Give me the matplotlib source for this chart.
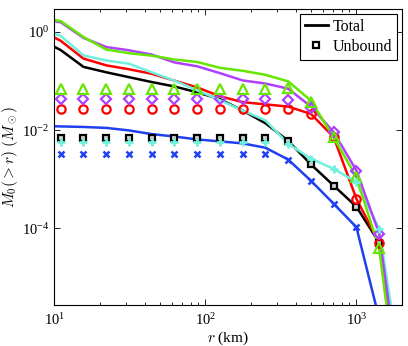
import matplotlib
matplotlib.use('Agg')
import matplotlib.pyplot as plt
import numpy as np

plt.rcParams.update({
    'font.family': 'serif',
    'font.serif': ['Liberation Serif', 'DejaVu Serif'],
    'mathtext.fontset': 'cm',
    'font.size': 11,
})

# radius grid (km); markers use r[1:16]
r = [7.81, 11.05, 15.6, 22.1, 31.25, 44.2, 62.5, 88.4, 125, 176.8, 250,
     353.6, 500, 707, 1000, 1414, 2000]

# total mass beyond r (lines)
tot_black = [0.74, 0.427, 0.195, 0.151, 0.12, 0.0955, 0.0776, 0.0589, 0.0427, 0.0251,
             0.0138, 0.00603, 0.0020, 7.4e-4, 2.75e-4, 5.1e-5, 1e-7]
tot_red = [1.15, 0.66, 0.288, 0.209, 0.174, 0.141, 0.102, 0.0741, 0.049, 0.0372,
           0.0335, 0.0302, 0.0214, 0.00724, 3.98e-4, 5.1e-5, 1e-8]
tot_purple = [1.9, 1.58, 0.76, 0.494, 0.424, 0.347, 0.24, 0.2, 0.145, 0.103,
              0.089, 0.07, 0.0302, 0.0091, 0.0015, 7.8e-5, 3e-8]
tot_green = [2.0, 1.67, 0.79, 0.44, 0.37, 0.33, 0.275, 0.245, 0.186, 0.162,
             0.134, 0.0986, 0.04, 0.0071, 0.0011, 3.9e-5, 1e-8]
tot_cyan = [1.26, 0.83, 0.334, 0.263, 0.226, 0.151, 0.102, 0.0646, 0.0407, 0.0251,
            0.0158, 0.00525, 0.00263, 0.00162, 8.7e-4, 9.8e-5, 1e-7]
tot_blue = [0.0122, 0.0119, 0.0116, 0.0111, 0.00986, 0.0083, 0.0074, 0.00646, 0.00589,
            0.00537, 0.00437, 0.00251, 9.3e-4, 3.16e-4, 1.05e-4, 1.45e-6, 1e-9]

# unbound mass beyond r (markers), at r = 11.05 ... 1414
unb_black = [0.0070] * 10 + [0.0059, 0.0020, 7.4e-4, 2.75e-4, 5.1e-5]
unb_red = [0.0274] * 10 + [0.0274, 0.021, 0.0072, 4.0e-4, 4.9e-5]
unb_purple = [0.0437] * 10 + [0.042, 0.028, 0.0091, 0.0015, 7.8e-5]
unb_green = [0.07] * 10 + [0.072, 0.037, 0.0071, 0.0011, 3.9e-5]
unb_cyan = [0.0058] * 10 + [0.0053, 0.00263, 0.00162, 8.7e-4, 9.8e-5]
unb_blue = [0.0032] * 10 + [0.0025, 9.3e-4, 3.16e-4, 1.05e-4, 1.45e-6]

fig = plt.figure(figsize=(4.08, 3.46), dpi=100)
ax = fig.add_axes([0.133, 0.118, 0.852, 0.855])

c_black = 'k'
c_red = '#ff0000'
c_purple = '#b040ff'
c_green = '#66e600'
c_cyan = '#70f0dc'
c_blue = '#2040f0'

lw = 1.8
ax.plot(r, tot_black, color=c_black, lw=lw)
ax.plot(r, tot_blue, color=c_blue, lw=lw)
ax.plot(r, tot_red, color=c_red, lw=lw)
ax.plot(r, tot_cyan, color=c_cyan, lw=lw)
ax.plot(r, tot_purple, color=c_purple, lw=lw)
ax.plot(r, tot_green, color=c_green, lw=lw)

rm = r[1:16]
ms_kw = dict(ls='none', mew=1.6, mfc='none')
ax.plot(rm, unb_black, marker='s', ms=5, mec='k', mfc='#d0d0d0', ls='none', mew=1.6)
ax.plot(rm, unb_red, marker='o', ms=6, mec=c_red, **ms_kw)
ax.plot(rm, unb_purple, marker='D', ms=5, mec=c_purple, **ms_kw)
ax.plot(rm, unb_green, marker='^', ms=7, mec=c_green, **ms_kw)
ax.plot(rm, unb_cyan, marker='+', ms=6, mec=c_cyan, ls='none', mew=2)
ax.plot(rm, unb_blue, marker='x', ms=4, mec=c_blue, ls='none', mew=1.8)

# legend handles
h1, = ax.plot([], [], color='k', lw=2)
h2, = ax.plot([], [], marker='s', ms=5, mec='k', mfc='white', mew=1.6, ls='none')
leg = ax.legend([h1, h2], ['Total', 'Unbound'], loc='upper right', fancybox=False,
                edgecolor='k', framealpha=1, borderaxespad=0.3, handlelength=1.45,
                handletextpad=0.3, borderpad=0.3, labelspacing=0.25, fontsize=11.5)
leg.get_frame().set_linewidth(0.8)

ax.set_xscale('log')
ax.set_yscale('log')
ax.set_xlim(10, 2000)
ax.set_ylim(2.7e-6, 2.9)
ax.set_yticks([1e-4, 1e-2, 1e0])
ax.yaxis.set_minor_locator(matplotlib.ticker.NullLocator())
ax.tick_params(which='both', direction='in', top=True, right=True, width=0.6,
               labelsize=10.5)
ax.tick_params(which='major', length=4)
ax.tick_params(which='minor', length=2)
ax.tick_params(axis='x', pad=5)
for s in ax.spines.values():
    s.set_linewidth(0.8)

ax.set_xlabel(r'$r$ (km)', labelpad=1)
ax.set_ylabel(r'$M_0(>r)\ (M_\odot)$', labelpad=1)

fig.savefig('out.png', dpi=100)
